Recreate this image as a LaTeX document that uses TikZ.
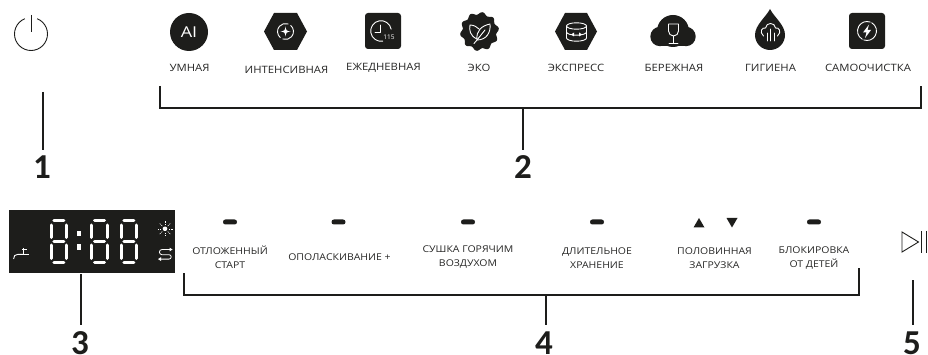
\documentclass[tikz,border=0pt]{standalone}
\usepackage{fontspec}
\setmainfont{Open Sans}
\newfontfamily\numf{Carlito}
\newfontfamily\labf[FakeStretch=1.12]{Open Sans}
\newfontfamily\aif[FakeStretch=1.2]{Open Sans}
\definecolor{ink}{HTML}{1D1D1B}
\definecolor{txt}{HTML}{262625}
\tikzset{
  x=1pt,y=-1pt,
  lab/.style={font=\labf\fontsize{10.1}{13.6}\selectfont,text=txt,align=center,inner sep=0pt},
  labs/.style={font=\labf\fontsize{9.35}{13.6}\selectfont,text=txt,align=center,inner sep=0pt},
  num/.style={font=\numf\bfseries\fontsize{35}{35}\selectfont,text=ink,inner sep=0pt,text height=22pt,text depth=0pt},
  lead/.style={draw=ink,line width=2pt},
  wl/.style={draw=white,line width=0.9pt,line cap=round,line join=round},
  tk/.style={draw=ink,line width=0.9pt},
  ledmark/.style={fill=ink,rounded corners=2.4pt},
  seg/.style={draw=white,line width=3pt,line cap=round}
}
\newcommand{\onedigit}[1]{%
  \begin{scope}[shift={(#1,0)}]
    \draw[seg] (4.5,221)--(14.5,221);
    \draw[seg] (4.5,241.2)--(14.5,241.2);
    \draw[seg] (4.5,262)--(14.5,262);
    \draw[seg] (1.7,225)--(1.7,237.5);
    \draw[seg] (17.3,225)--(17.3,237.5);
    \draw[seg] (1.7,245)--(1.7,258.5);
    \draw[seg] (17.3,245)--(17.3,258.5);
  \end{scope}}
\begin{document}
\begin{tikzpicture}
\useasboundingbox (0,0) rectangle (928,355);

% power
\draw[tk] (31,34) ++(-68:16.5) arc[start angle=-68,end angle=248,radius=16.5];
\draw[tk] (31,15)--(31,32);

% top icons
\node[circle,fill=ink,minimum size=38pt,inner sep=0pt,text=white,font=\aif\fontsize{15}{15}\selectfont] (ai) at (189,32) {AI};

\fill[ink] (264,31.5)--(274,13)--(297,13)--(307,31.5)--(297,50)--(274,50)--cycle;
\draw[wl] (285.5,31.5) ++(-50:8) arc[start angle=-50,end angle=110,radius=8];
\draw[wl] (285.5,31.5) ++(130:8) arc[start angle=130,end angle=290,radius=8];
\fill[white] (285.5,26.5) .. controls (286,30.5) and (286.5,31) .. (290.5,31.5) .. controls (286.5,32) and (286,32.5) .. (285.5,36.5) .. controls (285,32.5) and (284.5,32) .. (280.5,31.5) .. controls (284.5,31) and (285,30.5) .. (285.5,26.5)--cycle;

\fill[ink,rounded corners=3pt] (365,13) rectangle (401,49);
\draw[wl] (381,31) ++(-10:10.3) arc[start angle=-10,end angle=-280,radius=10.3];
\draw[wl] (380.5,25)--(380.5,32)--(375,32);
\node[text=white,inner sep=0pt,font=\fontsize{6.5}{6.5}\selectfont] (t115) at (389,37) {115};

\fill[ink,shift={(479.5,31.5)}] plot[domain=0:360,samples=120,smooth] (\x:{18.2+1.3*cos(10*\x+90)}) -- cycle;
\draw[wl] (477,39) .. controls (470,36) and (469,30) .. (470,25) .. controls (474,25) and (477,27) .. (479,29);
\draw[wl] (477,40) .. controls (476,31) and (481,26) .. (490,24) .. controls (491,33) and (486,40) .. (477,40)--(474,43.5);
\draw[wl] (477,40) -- (485,30);

\fill[ink] (555,31.5)--(565,13)--(587,13)--(597,31.5)--(587,50)--(565,50)--cycle;
\draw[wl] (576.5,26) ellipse[x radius=10,y radius=3.2];
\draw[wl] (566.5,26)--(566.5,38) arc[start angle=180,end angle=0,x radius=10,y radius=3.2]--(586.5,26);
\draw[wl] (566.5,32) arc[start angle=180,end angle=0,x radius=10,y radius=3.2];
\fill[white] (574,32.5) -- (571,34.5) -- (574,36.5)--cycle;
\fill[white] (579,32.5) -- (582,34.5) -- (579,36.5)--cycle;

\fill[ink] (660,36.5) circle[radius=9.7];
\fill[ink] (686,36.5) circle[radius=9.7];
\fill[ink] (673,31) circle[radius=16];
\fill[ink] (660,36.5) rectangle (686,46.2);
\draw[wl] (668.5,24)--(678.5,24)--(678.5,31) arc[start angle=0,end angle=180,radius=5]--cycle;
\draw[wl] (673.5,36)--(673.5,43) (669,43)--(678,43);

\fill[ink] (770,9) .. controls (766,17) and (755,25) .. (755,35) arc[start angle=180,end angle=0,radius=15] .. controls (785,25) and (774,17) .. (770,9)--cycle;
\draw[wl] (763.5,36) .. controls (759,32) and (762,27) .. (765.5,28) .. controls (766,22) and (775,22) .. (775.5,28) .. controls (779,27) and (782,32) .. (777.5,36);
\draw[wl] (767,33)--(767,41) (770.5,29)--(770.5,41) (774,33)--(774,41);

\fill[ink,rounded corners=3pt] (849,13) rectangle (885,49);
\draw[wl] (867,31) ++(-60:9.5) arc[start angle=-60,end angle=110,radius=9.5];
\draw[wl] (867,31) ++(120:9.5) arc[start angle=120,end angle=290,radius=9.5];
\fill[white] (869,24.5)--(863,32.5)--(866.5,32.5)--(865,38)--(871,30)--(867.5,30)--cycle;

% top labels
\node[lab] (l1) at (189.5,68) {УМНАЯ};
\node[lab] (l2) at (286.5,69.5) {ИНТЕНСИВНАЯ};
\node[lab] (l3) at (383.5,68) {ЕЖЕДНЕВНАЯ};
\node[lab] (l4) at (479,68) {ЭКО};
\node[lab] (l5) at (576,68) {ЭКСПРЕСС};
\node[lab] (l6) at (674,68) {БЕРЕЖНАЯ};
\node[lab] (l7) at (770.5,68) {ГИГИЕНА};
\node[lab] (l8) at (868,68) {САМООЧИСТКА};

% numbers
\node[num] (n1) at (42,168) {1};
\node[num] (n2) at (523,168) {2};
\node[num] (n3) at (80,343.5) {3};
\node[num] (n4) at (544,343.5) {4};
\node[num] (n5) at (912,343.5) {5};

% leaders
\coordinate (p1) at (43,92);
\draw[lead,shorten >=7pt] (p1) -- (p1|-n1.north);
\coordinate (b2l) at (160,86);
\coordinate (b2r) at (921,86);
\coordinate (b2a) at (160,108);
\coordinate (b2b) at (921,108);
\draw[lead] (b2l)--(b2a)--(b2b)--(b2r);
\draw[lead,shorten >=7pt] (n2|-b2a) -- (n2.north);

% display
\node[fill=ink,minimum width=166pt,minimum height=63pt,inner sep=0pt,anchor=north west] (disp) at (9,210) {};
\onedigit{49.3}\onedigit{90}\onedigit{119.3}
\fill[white] (77,231.5) rectangle (81,236.5);
\fill[white] (77,244.5) rectangle (81,249.5);
\draw[white,line width=0.8pt] (20,254.3)--(29,254.3) (22,249.8)--(27,249.8) (23.5,248)--(23.5,254.3);
\draw[white,line width=0.9pt] (23,254.3)--(18,254.3) .. controls (15,254.3) and (13.6,256) .. (13.6,259);
\fill[white] (165,228.8) circle[radius=2.3];
\foreach \a in {0,45,...,315}
  \draw[white,line width=0.5pt] (165,228.8) ++(\a:3.8) -- ++(\a:1.4) ++(\a:0.9) -- ++(\a:1.4);
\draw[white,line width=0.8pt] (171,249.5)--(162,249.5) arc[start angle=-90,end angle=-270,radius=2.6]--(169,254.7) arc[start angle=-90,end angle=90,radius=2.2]--(160,259.1);
\fill[white] (172.5,249.5)--(169.5,247.6)--(169.5,251.4)--cycle;
\fill[white] (158,259.1)--(161,257.2)--(161,261)--cycle;
\coordinate (p3) at (81,274);
\draw[lead,shorten >=7pt] (p3) -- (p3|-n3.north);

% lower indicators
\fill[ledmark] (223,219.5) rectangle (237,224.5);
\fill[ledmark] (331.5,219.5) rectangle (345.5,224.5);
\fill[ledmark] (461,219.5) rectangle (475,224.5);
\fill[ledmark] (590,219.5) rectangle (604,224.5);
\fill[ledmark] (807,219.5) rectangle (821,224.5);
\fill[ink] (699,218)--(704.5,227.5)--(693.5,227.5)--cycle;
\fill[ink] (732,227.5)--(726.5,218)--(737.5,218)--cycle;

% lower labels
\node[labs] (m1) at (230,257) {ОТЛОЖЕННЫЙ\\СТАРТ};
\node[labs] (m2) at (339.5,257) {ОПОЛАСКИВАНИЕ +};
\node[labs] (m3) at (468,257) {СУШКА ГОРЯЧИМ\\ВОЗДУХОМ};
\node[labs] (m4) at (597,258) {ДЛИТЕЛЬНОЕ\\ХРАНЕНИЕ};
\node[labs] (m5) at (714.5,258) {ПОЛОВИННАЯ\\ЗАГРУЗКА};
\node[labs] (m6) at (814,258) {БЛОКИРОВКА\\ОТ ДЕТЕЙ};

\coordinate (b4l) at (184,273);
\coordinate (b4r) at (859,268);
\coordinate (b4a) at (184,295);
\coordinate (b4b) at (859,295);
\draw[lead] (b4l)--(b4a)--(b4b)--(b4r);
\coordinate (p4) at (546,295);
\draw[lead,shorten >=7pt] (p4) -- (p4|-n4.north);

% play
\draw[draw=ink,line width=0.9pt] (902,232)--(902,252)--(918.5,242)--cycle;
\draw[draw=ink,line width=1pt] (921.8,231.5)--(921.8,252.5) (926.5,231.5)--(926.5,252.5);
\coordinate (p5) at (913,280);
\draw[lead,shorten >=7pt] (p5) -- (p5|-n5.north);
\end{tikzpicture}
\end{document}
